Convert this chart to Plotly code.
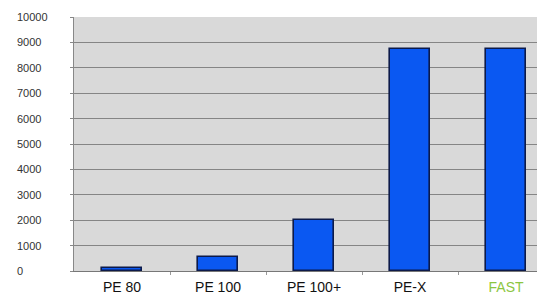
import plotly.graph_objects as go

categories = ["PE 80", "PE 100", "PE 100+", "PE-X", "FAST"]
values = [110, 550, 2020, 8750, 8750]
y_ticks = [0, 1000, 2000, 3000, 4000, 5000, 6000, 7000, 8000, 9000, 10000]
label_colors = ["#111111", "#111111", "#111111", "#111111", "#8cc63f"]

fig = go.Figure()
fig.add_trace(go.Bar(
    x=list(range(len(categories))), y=values,
    width=0.42,
    marker=dict(color="#0a58f2", line=dict(color="#0c1a4a", width=1.6)),
))

tickvals = list(range(len(categories)))
ticktext = [f'<span style="color:{c}">{t}</span>' for t, c in zip(categories, label_colors)]

W, H = 537, 286
L, R, T, B = 66, 0, 9, 23

fig.update_layout(
    width=W, height=H,
    margin=dict(l=L, r=R, t=T, b=B, pad=0),
    paper_bgcolor="white", plot_bgcolor="#d9d9d9",
    showlegend=False,
    bargap=0,
    xaxis=dict(
        range=[-0.5, 4.406], tickvals=tickvals, ticktext=ticktext,
        showgrid=False, zeroline=False, automargin=False,
        showline=True, linecolor="#777777", linewidth=1,
        ticks="", ticklabelstandoff=3,
        tickfont=dict(family="Liberation Sans, Arial", size=14, color="#111111"),
    ),
    yaxis=dict(
        range=[0, 10000], tickvals=y_ticks, showticklabels=False, automargin=False,
        showgrid=True, gridcolor="#858585", gridwidth=1,
        zeroline=False, showline=True, linecolor="#888888", linewidth=1,
        ticks="outside", ticklen=3, tickcolor="#888888",
    ),
)

fig.update_xaxes(minor=dict(tickvals=[0.5, 1.5, 2.5, 3.5], ticks="outside", ticklen=3, tickcolor="#999999"))

label_x = (7 - L) / (W - L - R)
for v in y_ticks:
    fig.add_annotation(
        x=label_x, xref="paper", xanchor="left", y=v, yref="y", yanchor="middle",
        text=str(v), showarrow=False,
        font=dict(family="Liberation Sans, Arial", size=11, color="#333333"),
    )

fig.write_html("out.html")
